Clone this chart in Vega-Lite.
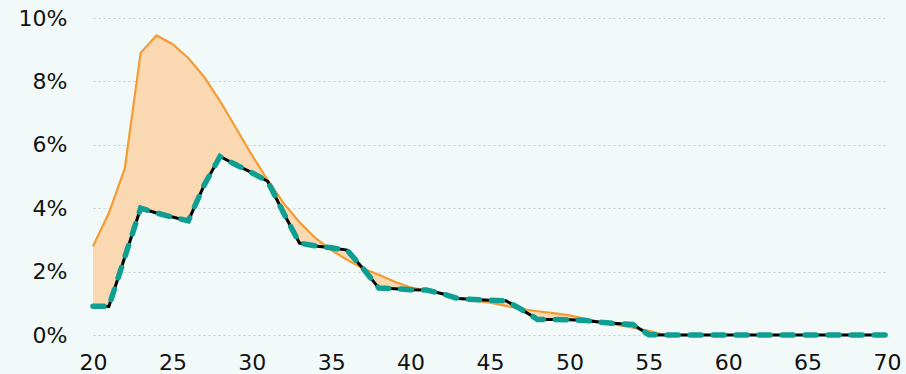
{
  "$schema": "https://vega.github.io/schema/vega-lite/v6.json",
  "width": 794,
  "height": 317,
  "autosize": {"type": "none"},
  "padding": {"left": 93, "top": 18, "right": 19, "bottom": 39},
  "background": "#f2faf9",
  "config": {
    "view": {"stroke": null},
    "axis": {"labelFont": "DejaVu Sans", "labelFontSize": 22, "labelColor": "#111111", "ticks": false, "domain": false, "title": null}
  },
  "data": {"values": [
    {"age": 20, "o": 0.0280, "b": 0.0091},
    {"age": 21, "o": 0.0385, "b": 0.0090},
    {"age": 22, "o": 0.0525, "b": 0.0245},
    {"age": 23, "o": 0.0890, "b": 0.0400},
    {"age": 24, "o": 0.0945, "b": 0.0385},
    {"age": 25, "o": 0.0918, "b": 0.0372},
    {"age": 26, "o": 0.0874, "b": 0.0360},
    {"age": 27, "o": 0.0814, "b": 0.0473},
    {"age": 28, "o": 0.0738, "b": 0.0563},
    {"age": 29, "o": 0.0653, "b": 0.0537},
    {"age": 30, "o": 0.0568, "b": 0.0512},
    {"age": 31, "o": 0.0489, "b": 0.0485},
    {"age": 32, "o": 0.0416, "b": 0.0385},
    {"age": 33, "o": 0.0356, "b": 0.0290},
    {"age": 34, "o": 0.0306, "b": 0.0281},
    {"age": 35, "o": 0.0268, "b": 0.0275},
    {"age": 36, "o": 0.0237, "b": 0.0268},
    {"age": 37, "o": 0.0210, "b": 0.0210},
    {"age": 38, "o": 0.0190, "b": 0.0148},
    {"age": 39, "o": 0.0168, "b": 0.0146},
    {"age": 40, "o": 0.0150, "b": 0.0143},
    {"age": 41, "o": 0.0140, "b": 0.0142},
    {"age": 42, "o": 0.0130, "b": 0.0130},
    {"age": 43, "o": 0.0117, "b": 0.0115},
    {"age": 44, "o": 0.0108, "b": 0.0112},
    {"age": 45, "o": 0.0102, "b": 0.0110},
    {"age": 46, "o": 0.0092, "b": 0.0108},
    {"age": 47, "o": 0.0082, "b": 0.0080},
    {"age": 48, "o": 0.0075, "b": 0.0049},
    {"age": 49, "o": 0.0069, "b": 0.0049},
    {"age": 50, "o": 0.0062, "b": 0.0048},
    {"age": 51, "o": 0.0051, "b": 0.0046},
    {"age": 52, "o": 0.0041, "b": 0.0040},
    {"age": 53, "o": 0.0032, "b": 0.0036},
    {"age": 54, "o": 0.0023, "b": 0.0033},
    {"age": 55, "o": 0.0013, "b": 0.0001},
    {"age": 56, "o": 0.0000, "b": 0.0000},
    {"age": 57, "o": 0.0000, "b": 0.0000},
    {"age": 58, "o": 0.0000, "b": 0.0000},
    {"age": 59, "o": 0.0000, "b": 0.0000},
    {"age": 60, "o": 0.0000, "b": 0.0000},
    {"age": 61, "o": 0.0000, "b": 0.0000},
    {"age": 62, "o": 0.0000, "b": 0.0000},
    {"age": 63, "o": 0.0000, "b": 0.0000},
    {"age": 64, "o": 0.0000, "b": 0.0000},
    {"age": 65, "o": 0.0000, "b": 0.0000},
    {"age": 66, "o": 0.0000, "b": 0.0000},
    {"age": 67, "o": 0.0000, "b": 0.0000},
    {"age": 68, "o": 0.0000, "b": 0.0000},
    {"age": 69, "o": 0.0000, "b": 0.0000},
    {"age": 70, "o": 0.0000, "b": 0.0000}
  ]},
  "encoding": {
    "x": {"field": "age", "type": "quantitative", "scale": {"domain": [20, 70], "nice": false, "zero": false},
      "axis": {"values": [20, 25, 30, 35, 40, 45, 50, 55, 60, 65, 70], "grid": false, "labelPadding": 17, "labelFlush": false}}
  },
  "layer": [
    {
      "mark": {"type": "area", "color": "#fad8b2", "opacity": 1},
      "encoding": {
        "y": {"field": "b", "type": "quantitative", "scale": {"domain": [0, 0.1], "nice": false},
          "axis": {"values": [0, 0.02, 0.04, 0.06, 0.08, 0.1], "format": ".0%", "labelPadding": 26, "grid": true, "gridColor": "#c8cccc", "gridDash": [2, 3], "gridWidth": 1}},
        "y2": {"field": "o"}
      }
    },
    {
      "mark": {"type": "line", "color": "#f39c33", "strokeWidth": 2.2},
      "encoding": {"y": {"field": "o", "type": "quantitative"}}
    },
    {
      "mark": {"type": "line", "color": "#000000", "strokeWidth": 3},
      "encoding": {"y": {"field": "b", "type": "quantitative"}}
    },
    {
      "mark": {"type": "line", "color": "#0f9e92", "strokeWidth": 5.5, "strokeCap": "round", "strokeDash": [11, 12]},
      "encoding": {"y": {"field": "b", "type": "quantitative"}}
    }
  ]
}
